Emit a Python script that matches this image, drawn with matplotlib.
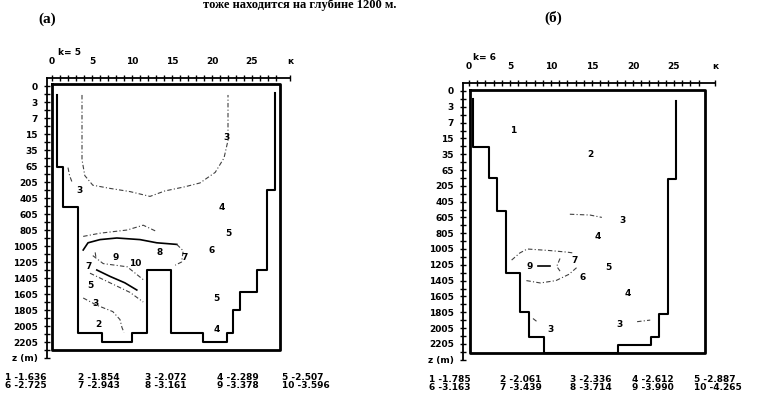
import numpy as np
import matplotlib
matplotlib.use("Agg")
import matplotlib.pyplot as plt

# depth levels (labels on the left axis)
depths = ["0", "3", "7", "15", "35", "65", "205", "405", "605", "805", "1005",
          "1205", "1405", "1605", "1805", "2005", "2205"]

# isoline values printed under each section
levels_a = [-1.636, -1.854, -2.072, -2.289, -2.507, -2.725, -2.943, -3.161, -3.378, -3.596]
levels_b = [-1.785, -2.061, -2.336, -2.612, -2.887, -3.163, -3.439, -3.714, -3.990, -4.265]

# bottom topography (grid index x, level index z)
bot_a_x = [0.62, 0.62, 1.38, 1.38, 3.25, 3.25, 6.25, 6.25, 10.0, 10.0, 11.9, 11.9, 14.9, 14.9,
           18.9, 18.9, 21.9, 21.9, 22.6, 22.6, 23.5, 23.5, 25.6, 25.6, 26.9, 26.9, 27.9, 27.9]
bot_a_z = [0.56, 5.06, 5.06, 7.56, 7.56, 15.44, 15.44, 16.0, 16.0, 15.44, 15.44, 11.5, 11.5, 15.44,
           15.44, 16.0, 16.0, 15.44, 15.44, 14.0, 14.0, 12.9, 12.9, 11.5, 11.5, 6.5, 6.5, 0.44]

bot_b_x = [0.49, 0.49, 2.44, 2.44, 3.41, 3.41, 4.5, 4.5, 6.2, 6.2, 7.3, 7.3, 9.15, 9.15,
           18.2, 18.2, 22.2, 22.2, 23.2, 23.2, 24.3, 24.3, 25.2, 25.2]
bot_b_z = [0.5, 3.54, 3.54, 5.5, 5.5, 7.6, 7.6, 11.5, 11.5, 14.0, 14.0, 15.6, 15.6, 16.6,
           16.6, 16.1, 16.1, 15.6, 15.6, 14.1, 14.1, 5.6, 5.6, 0.63]

# digitised isolines, section (a)
iso_a = [
    ([3.75, 3.75, 4.1, 5.1, 7.25, 9.75, 12.25, 14.1, 16.6, 18.5, 20.4, 21.5, 22.0, 22.0],
     [0.56, 4.6, 5.6, 6.2, 6.4, 6.6, 6.9, 6.56, 6.3, 6.06, 5.4, 4.5, 3.4, 0.56], "dd"),
    ([2.0, 2.2, 2.5], [5.1, 5.6, 6.0], "dd"),
    ([3.9, 6.0, 9.4, 11.4, 13.1], [9.4, 9.2, 9.0, 8.7, 9.1], "dd"),
    ([3.9, 4.5, 6.0, 8.1, 11.0, 13.1, 15.6], [10.25, 9.8, 9.6, 9.5, 9.6, 9.8, 9.9], "s"),
    ([15.6, 16.4, 16.2, 15.4], [9.9, 10.3, 11.0, 11.2], "dd"),
    ([5.6, 7.25, 9.1, 10.6], [11.5, 11.9, 12.3, 12.75], "s"),
    ([5.1, 6.4, 9.4, 11.4], [10.6, 11.1, 11.3, 12.1], "dd"),
    ([4.75, 7.25, 9.75, 11.4], [11.7, 12.3, 12.9, 13.5], "dd"),
    ([3.9, 5.6, 7.6, 8.5, 8.75, 9.0], [13.25, 13.7, 14.1, 14.6, 15.1, 15.4], "dd"),
    ([5.4, 5.5], [10.4, 10.75], "dd"),
]
lab_a = [("3", 21.75, 3.2), ("3", 3.4, 6.55), ("4", 21.25, 7.6), ("5", 22.1, 9.2),
         ("6", 20.0, 10.3), ("8", 13.5, 10.4), ("7", 16.6, 10.7), ("9", 8.0, 10.7),
         ("10", 10.4, 11.1), ("7", 4.6, 11.3), ("5", 4.75, 12.5), ("3", 5.4, 13.6),
         ("2", 5.75, 14.9), ("5", 20.6, 13.3), ("4", 20.6, 15.25)]

# digitised isolines, section (b)
iso_b = [
    ([8.4, 9.9], [11.1, 11.1], "s"),
    ([5.2, 6.2, 7.1, 9.9, 12.0, 12.7], [10.7, 10.25, 10.0, 10.1, 10.2, 10.25], "dd"),
    ([7.0, 8.7, 10.6, 12.2, 13.3], [12.0, 12.15, 12.0, 11.6, 11.1], "dd"),
    ([11.1, 10.7, 11.1], [10.6, 11.1, 11.4], "dd"),
    ([12.3, 14.75, 16.2], [7.8, 7.85, 8.0], "dd"),
    ([7.8, 8.3], [14.4, 14.6], "dd"),
    ([20.5, 22.1], [14.6, 14.5], "dd"),
]
lab_b = [("1", 5.4, 2.5), ("2", 14.75, 4.05), ("3", 18.7, 8.2), ("4", 15.7, 9.2),
         ("9", 7.4, 11.1), ("7", 12.9, 10.7), ("5", 16.95, 11.2), ("6", 13.9, 11.8),
         ("4", 19.3, 12.8), ("3", 18.4, 14.8), ("3", 9.9, 15.1)]

W, H = 777, 398
fig = plt.figure(figsize=(W / 100, H / 100), dpi=100)
fnt = dict(fontsize=6.5, fontweight="bold", family="DejaVu Sans")


def section(x0, xs, y0, ys, xl, yl, frame, bx, bz, iso, labs, k):
    # axes placed so that grid index / level index land on the scanned pixels
    left = x0 + xl[0] * xs
    right = x0 + xl[1] * xs
    top = y0 + yl[1] * ys
    bottom = y0 + yl[0] * ys
    ax = fig.add_axes([left / W, 1 - bottom / H, (right - left) / W, (bottom - top) / H])
    ax.set_xlim(xl)
    ax.set_ylim(yl)
    for s in ["right", "bottom"]:
        ax.spines[s].set_visible(False)
    for s in ["left", "top"]:
        ax.spines[s].set_linewidth(1.3)
    ax.xaxis.tick_top()
    ax.set_xticks([0, 5, 10, 15, 20, 25, xl[1]])
    ax.set_xticklabels(["0", "5", "10", "15", "20", "25", "к"], **fnt)
    ax.set_xticks(np.arange(0, 29), minor=True)
    ax.set_yticks(list(range(17)) + [17])
    ax.set_yticklabels(depths + ["z (m)"], **fnt)
    ax.set_yticks(np.arange(0.5, 17, 1), minor=True)
    ax.tick_params(axis="both", which="both", direction="inout", length=5, width=1.0)
    ax.tick_params(axis="x", which="major", pad=6)
    ax.tick_params(axis="y", which="major", pad=4)
    ax.patch.set_alpha(0)

    # inner frame
    fx = [frame[0], frame[1], frame[1], frame[0], frame[0]]
    fz = [frame[2], frame[2], frame[3], frame[3], frame[2]]
    ax.plot(fx, fz, color="black", lw=2.0, clip_on=False)
    # bottom
    ax.plot(bx, bz, color="black", lw=1.5)
    # isolines
    for xs_, zs_, st in iso:
        if st == "s":
            ax.plot(xs_, zs_, color="black", lw=1.2)
        else:
            ax.plot(xs_, zs_, color="0.25", lw=0.8, linestyle=(0, (4, 2, 1, 2)))
    for t, x, z in labs:
        ax.text(x, z, t, ha="center", va="center", **fnt)
    ax.text(0.75 if k == "5" else 0.5, -2.1, "k= " + k, ha="left", va="center",
            clip_on=False, **fnt)
    return ax


section(52, 8.0, 86, 16.0, (-0.625, 29.75), (17, -0.5), (0, 28.5, -0.125, 16.5),
        bot_a_x, bot_a_z, iso_a, lab_a, "5")
section(469, 8.2, 91, 15.8, (-0.73, 30.0), (17, -0.5), (0.1, 28.8, -0.06, 16.6),
        bot_b_x, bot_b_z, iso_b, lab_b, "6")

# isoline value tables
def table(vals, xs, y1, y2):
    for i, v in enumerate(vals):
        row = i // 5
        col = i % 5
        y = y1 if row == 0 else y2
        fig.text(xs[col] / W, 1 - y / H, "%d %.3f" % (i + 1, v), ha="left", va="center", **fnt)


table(levels_a, [5, 78, 145, 217, 282], 377, 385)
table(levels_b, [429, 500, 570, 632, 694], 380, 388)

fig.text(47 / W, 1 - 19 / H, "(а)", ha="center", va="center",
         fontsize=11, fontweight="bold", family="Liberation Serif")
fig.text(553 / W, 1 - 18 / H, "(б)", ha="center", va="center",
         fontsize=11, fontweight="bold", family="Liberation Serif")
fig.text(300 / W, 1 - 5 / H, "тоже находится на глубине 1200 м.", ha="center", va="center",
         fontsize=9, fontweight="bold", family="Liberation Serif")

plt.savefig("out.png", dpi=100)
